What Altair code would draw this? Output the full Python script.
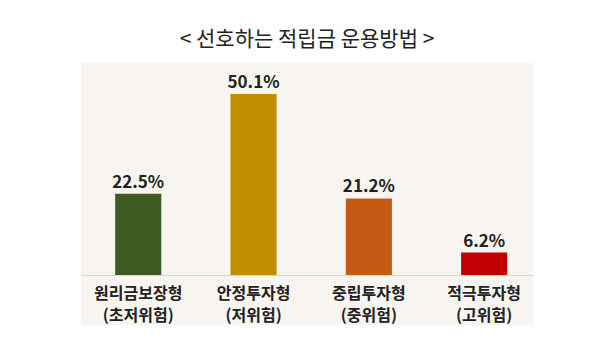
import altair as alt
import pandas as pd

categories = ["원리금보장형 (초저위험)", "안정투자형 (저위험)", "중립투자형 (중위험)", "적극투자형 (고위험)"]
values = [22.5, 50.1, 21.2, 6.2]
labels = ["22.5%", "50.1%", "21.2%", "6.2%"]
colors = ["#3e5a23", "#c08f00", "#c55a14", "#c00000"]
title_text = "< 선호하는 적립금 운용방법 >"

df = pd.DataFrame({"cat": categories, "val": values, "lab": labels})

FONT = "Noto Sans CJK KR"

x = alt.X("cat:N", sort=categories, title=None,
          scale=alt.Scale(paddingInner=0.6, paddingOuter=0.26, align=0.57),
          axis=alt.Axis(orient="bottom", offset=-50, domainColor="#d8d3cb", domainWidth=1,
                        ticks=False, labelAngle=0, labelFont=FONT, labelFontWeight="bold",
                        labelFontSize=16, labelColor="#222222", labelPadding=10,
                        labelLineHeight=22, labelExpr="split(datum.label, ' ')"))
y = alt.Y("val:Q", title=None, scale=alt.Scale(domain=[-13.84, 58.68], nice=False, zero=False),
          axis=None)

bars = alt.Chart(df).mark_bar().encode(
    x=x, y=y, y2=alt.datum(0),
    color=alt.Color("cat:N", sort=categories,
                    scale=alt.Scale(domain=categories, range=colors), legend=None),
)
text = alt.Chart(df).mark_text(font=FONT, fontWeight="bold", fontSize=17, color="#222222",
                               baseline="alphabetic", dy=-6).encode(
    x=alt.X("cat:N", sort=categories), y="val:Q", text="lab:N")

chart = alt.layer(bars, text).properties(
    width=452, height=262,
    title=alt.TitleParams(title_text, font=FONT, fontSize=21, fontWeight="normal",
                          color="#222222", anchor="middle", offset=13),
    autosize=alt.AutoSizeParams(type="none"),
    padding={"left": 73, "top": 55, "right": 59, "bottom": 27},
    background="#ffffff",
).configure_view(fill="#f8f5f0", stroke=None)

chart.save("out.html", embed_options={"renderer": "svg", "actions": False})
